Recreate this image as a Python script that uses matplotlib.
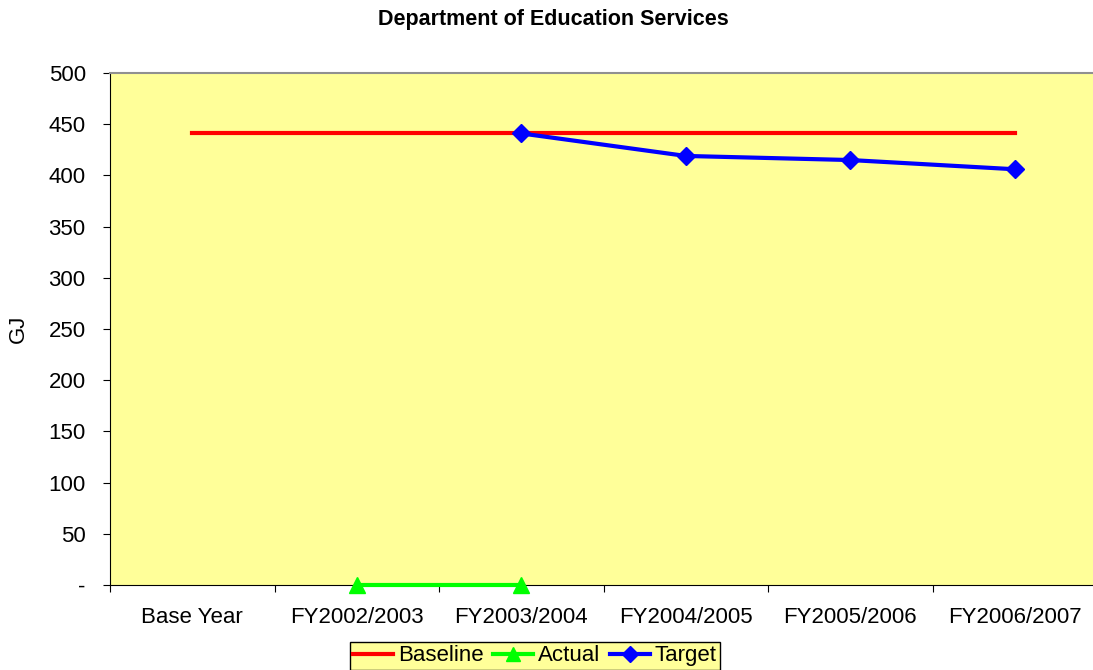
import matplotlib
matplotlib.use("Agg")
import matplotlib.pyplot as plt
import numpy as np

plt.rcParams['font.family'] = ['Liberation Sans', 'DejaVu Sans']

categories = ["Base Year", "FY2002/2003", "FY2003/2004", "FY2004/2005", "FY2005/2006", "FY2006/2007"]
baseline = [441, 441, 441, 441, 441, 441]
actual = [np.nan, 0, 0, np.nan, np.nan, np.nan]
target = [np.nan, np.nan, 441, 419, 415, 406]
y_ticks = [0, 50, 100, 150, 200, 250, 300, 350, 400, 450, 500]
y_tick_labels = ["-", "50", "100", "150", "200", "250", "300", "350", "400", "450", "500"]

W, H = 1093, 670
fig = plt.figure(figsize=(W / 100, H / 100), dpi=100)
ax = fig.add_axes([110 / W, 1 - 585 / H, 987 / W, 512 / H])
ax.set_facecolor("#FFFF99")

x = np.arange(len(categories))
ax.plot(x, baseline, color="#FF0000", lw=3, solid_capstyle="projecting", label="Baseline", zorder=3)
ax.plot(x, actual, color="#00FF00", lw=3, marker="^", ms=12, label="Actual", zorder=4, clip_on=False)
ax.plot(x, target, color="#0000FF", lw=3, marker="D", ms=9, label="Target", zorder=5)

ax.set_xlim(-0.5, len(categories) - 0.5)
ax.set_ylim(0, 500)
ax.set_yticks(y_ticks)
ax.set_yticklabels(y_tick_labels)
ax.set_xticks(x)
ax.set_xticklabels(categories)
ax.set_xticks(np.arange(-0.5, len(categories), 1.0), minor=True)
ax.tick_params(axis="x", which="major", length=0, pad=16, labelsize=16)
ax.tick_params(axis="x", which="minor", length=5, width=0.8, direction="out")
ax.tick_params(axis="y", length=5, width=0.8, direction="out", pad=12.5, labelsize=16)

ax.spines["top"].set_color("#909090")
ax.spines["top"].set_linewidth(1.5)
ax.spines["right"].set_visible(False)
ax.spines["left"].set_color("black")
ax.spines["bottom"].set_color("black")

ax.set_ylabel("GJ", fontsize=16, labelpad=14)
fig.text(553 / W, 1 - 20 / H, "Department of Education Services", ha="center", va="center",
         fontsize=15.5, fontweight="bold")

leg = fig.legend(loc="upper center", bbox_to_anchor=(535 / W, 1 - 642 / H), ncol=3,
                 fontsize=16, frameon=True, fancybox=False, handlelength=1.8,
                 handletextpad=0.2, columnspacing=0.45, borderpad=0.15, borderaxespad=0,
                 markerscale=0.85)
leg.get_frame().set_facecolor("#FFFF99")
leg.get_frame().set_edgecolor("black")
leg.get_frame().set_linewidth(1.0)
leg.get_frame().set_alpha(1)

fig.savefig("out.png", dpi=100)
